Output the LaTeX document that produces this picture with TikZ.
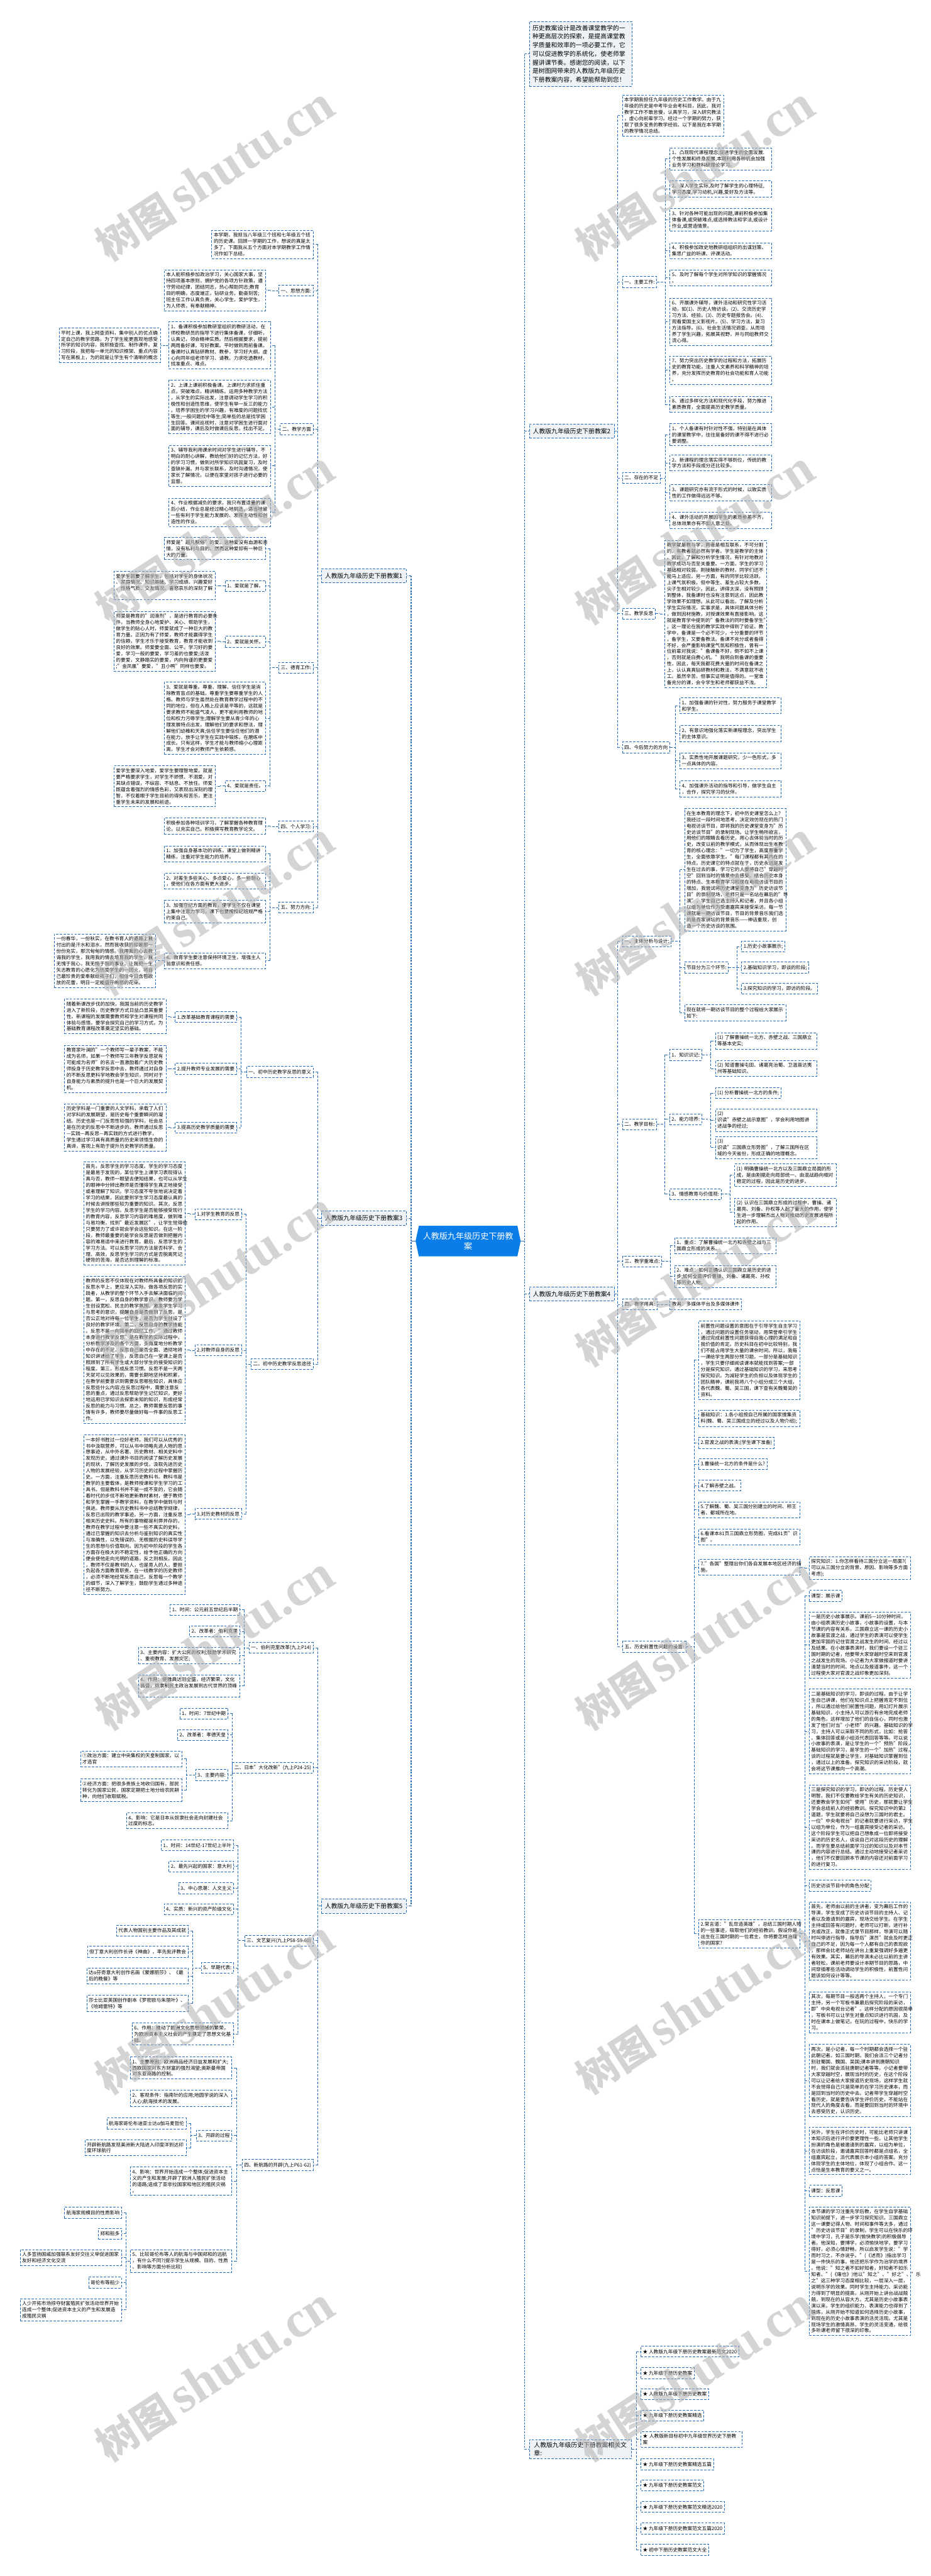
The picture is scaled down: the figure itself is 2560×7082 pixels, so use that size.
\documentclass[tikz,border=0pt]{standalone}
\usepackage{fontspec}
\setmainfont{Noto Sans CJK SC}
\newfontfamily\wmlat{Liberation Serif}
\definecolor{bl}{RGB}{40,112,190}
\definecolor{lg}{RGB}{239,242,246}
\definecolor{cb}{RGB}{10,125,232}
\newcommand\fsB{\fontsize{6.65pt}{8.6pt}\selectfont}
\newcommand\fsL{\fontsize{8.5pt}{11.5pt}\selectfont}
\newcommand\fsC{\fontsize{11.3pt}{14.5pt}\selectfont}
\tikzset{
  bxA/.style={draw=bl, dash pattern=on 3.3pt off 1.8pt, line width=0.7pt, fill=white, inner xsep=2.7pt, inner ysep=3.5pt, font=\fsB, align=left},
  ppA/.style={bxA, text width=134pt},
  lbA/.style={bxA, minimum height=15pt},
  hdA/.style={bxA, fill=lg, font=\fsL, inner xsep=5pt, minimum height=19.5pt},
  cnA/.style={draw=bl, dash pattern=on 3.3pt off 1.8pt, line width=0.7pt},
  spA/.style={draw=bl, dash pattern=on 2.5pt off 1.5pt, line width=1.5pt},
  wmA/.style={text=black!30, opacity=0.55, rotate=33, anchor=base west, inner sep=0pt},
}
\newcommand\fanR[4]{%
  \coordinate (vv) at ([xshift=-6pt]#2.west);
  \draw[cnA] (#1.east) -- (vv |- #1.east);
  \draw[cnA] (vv |- #2.west) -- (vv |- #3.west);
  \foreach \q in {#4} {\draw[cnA] (vv |- \q.west) -- (\q.west);}
}
\newcommand\fanL[4]{%
  \coordinate (vv) at ([xshift=6pt]#2.east);
  \draw[cnA] (#1.west) -- (vv |- #1.west);
  \draw[cnA] (vv |- #2.east) -- (vv |- #3.east);
  \foreach \q in {#4} {\draw[cnA] (vv |- \q.east) -- (\q.east);}
}
\begin{document}
\begin{tikzpicture}[x=0.5pt,y=-0.5pt]
\useasboundingbox (0,0) rectangle (2560,7082);
\fill[white] (0,0) rectangle (2560,7082);

% ---------- centre ----------
\fill[cb] (1152,3370) -- (1423,3370) -- (1432,3412) -- (1423,3454) -- (1152,3454) -- (1143,3412) -- cycle;
\node[text=white, font=\fsC, align=center, minimum width=144.5pt, minimum height=42pt, inner sep=0pt] (c) at (1287.5,3412) {人教版九年级历史下册教\\案};

% ---------- right side ----------
\node[hdA, anchor=north west, text width=132pt, inner xsep=4.5pt, inner ysep=5pt, font=\fontsize{8.5pt}{11.9pt}\selectfont] (intro) at (1455,58) {历史教案设计是改善课堂教学的一\\种更高层次的探索，是提高课堂教\\学质量和效率的一项必要工作，它\\可以促进教学的系统化，使老师掌\\握讲课节奏。感谢您的阅读，以下\\是树图网带来的人教版九年级历史\\下册教案内容，希望能帮助到您！};

\node[hdA, anchor=west] (r2) at (1455,1185) {人教版九年级历史下册教案2};
\node[ppA, anchor=north west] (r2a) at (1711,261) {本学期我担任九年级的历史工作教学。由于九\\年级的历史是中考毕业会考科目，因此，我对\\教学工作不敢怠慢，认真学习，深入研究教法\\，虚心向前辈学习。经过一个学期的努力，获\\取了很多宝贵的教学经验。以下是我在本学期\\的教学情况总结。};
\node[lbA, anchor=west] (r2b) at (1711,775) {一、主要工作:};
\node[ppA, anchor=north west] (r2b1) at (1842,406) {1、凸现现代课程理念,促进学生的全面发展.\\个性发展和终身发展,本期利用各种机会加强\\业务学习和教科研理论学习。};
\node[ppA, anchor=north west] (r2b2) at (1842,497) {2、深入学生实际,及时了解学生的心理特征,\\学习态度,学习动机,兴趣,爱好及方法等。};
\node[ppA, anchor=north west] (r2b3) at (1842,573) {3、针对各种可能出现的问题,课前积极参加集\\体备课,或突破难点,或选择教法和学法,或设计\\作业,或营造情景。};
\node[ppA, anchor=north west] (r2b4) at (1842,667) {4、积极参加政史地教研组组织的出谋划策、\\集思广益的听课、评课活动。};
\node[ppA, anchor=north west] (r2b5) at (1842,741) {5、及时了解每个学生对所学知识的掌握情况\\。};
\node[ppA, anchor=north west] (r2b6) at (1842,819) {6、开展课外辅导，课外活动和研究性学习活\\动，如(1)、历史人物访谈。(2)、交流历史学\\习方法、经验。(3)、历史专题报告会。(4)、\\观看爱国主义影视片。(5)、学习方法，复习\\方法指导。(6)、社会生活情况调查。从而培\\养了学生兴趣，拓展其视野，并与同组教师交\\流心得。};
\node[ppA, anchor=north west] (r2b7) at (1842,978) {7、努力突出历史教学的过程和方法，拓展历\\史的教育功能，注重人文素养和科学精神的培\\养，充分发挥历史教育的社会功能和育人功能\\。};
\node[ppA, anchor=north west] (r2b8) at (1842,1089) {8、通过多样化方法和现代化手段，努力推进\\素质教育，全面提高历史教学质量。};
\node[lbA, anchor=west] (r2c) at (1711,1314) {二、存在的不足};
\node[ppA, anchor=north west] (r2c1) at (1842,1164) {1、个人备课有时针对性不强，特别是在具体\\的课堂教学中，往往是备好的课不得不进行必\\要调整。};
\node[ppA, anchor=north west] (r2c2) at (1842,1250) {2、新课程的理念落实得不够到位，传统的教\\学方法和手段成分还比较多。};
\node[ppA, anchor=north west] (r2c3) at (1842,1332) {3、课题研究亦有流于形式的时候，以致实质\\性的工作做得远远不够。};
\node[ppA, anchor=north west] (r2c4) at (1842,1408) {4、课外活动的开展因学生的素质参差不齐，\\总体效果亦有不如人意之处。};
\node[lbA, anchor=west] (r2d) at (1711,1687) {三、教学反思};
\node[ppA, anchor=north west] (r2d1) at (1828,1485) {教学就是教与学，两者是相互联系，不可分割\\的，有教者就必然有学者。学生是教学的主体\\。因此，了解和分析学生情况，有针对地教对\\教学成功与否至关重要。一方面，学生的学习\\基础相对较弱，刚接触新的教材，同学们还不\\能马上适应。另一方面，有的同学比较活跃，\\上课气氛积极，但中等生、差生占较大多数，\\尖子生相对较少。因此，讲得太深，没有照顾\\到整体，我备课时也没有注意到这点，因此教\\学效果不如理想。从此可以看出，了解及分析\\学生实际情况，实事求是，具体问题具体分析\\，做到因材施教，对授课效果有直接影响。这\\就是教育学中提到的"备教法的同时要备学生"\\。这一理论在我的教学实践中得到了验证。教\\学中，备课是一个必不可少，十分重要的环节\\，备学生，又要备教法。备课不充分或者备得\\不好，会严重影响课堂气氛和积极性，曾有一\\位前辈对我说："备课备不好，倒不如不上课\\，否则就是白费心机。"我明白到备课的重要\\性，因此，每天我都花费大量的时间在备课之\\上，认认真真钻研教材和教法，不满意就不收\\工。虽然辛苦，但事实证明是值得的。一堂准\\备充分的课，会令学生和老师都获益不浅。};
\node[lbA, anchor=west] (r2e) at (1711,2055) {四、今后努力的方向};
\node[ppA, anchor=north west] (r2e1) at (1869,1918) {1、加强备课的针对性，努力服务于课堂教学\\和学生。};
\node[ppA, anchor=north west] (r2e2) at (1869,1994) {2、有意识地强化落实新课程理念，突出学生\\的主体意识。};
\node[ppA, anchor=north west] (r2e3) at (1869,2069) {3、实质性地开展课题研究，少一色形式，多\\一点具体的内容。};
\node[ppA, anchor=north west] (r2e4) at (1869,2146) {4、加强课外活动的指导和引导，做学生自主\\，合作，探究学习的伙伴。};

\node[hdA, anchor=west] (r4) at (1455,3557) {人教版九年级历史下册教案4};
\node[lbA, anchor=west] (r4a) at (1711,2588) {一、主体分析与设计:};
\node[ppA, anchor=north west] (r4a1) at (1882,2222) {在生本教育的理念下，初中历史课堂怎么上？\\我经过一段时间地思考，决定效仿现在的热门\\电视访谈节目，即将我的历史课堂变身为"历\\史访谈节目"的录制现场。让学生畅所欲言，\\用他们的眼睛去看历史，用心去体验当时的历\\史，改变以前的教学模式，从而体现出生本教\\育的核心理念："一切为了学生，高度尊重学\\生，全面依靠学生。"每门课程都有其内在的\\特点。历史课它的特点就在于，历史永远是发\\生在过去的事，学习它的人要将自己"穿越时\\空"回到当时的情景中去感受。结合历史本身\\的特点、生本教育学习和现在电视访谈节目的\\增加，我尝试将历史课堂变身为"历史访谈节\\目"的录制现场，老师只是一名站在幕后的"导\\演"，学生自己选主持人和记者，并且各小组\\以组为单位作为受邀嘉宾来接受采访。每一节\\课就是一期访谈节目，节目的背景音乐我们选\\的是百家讲坛的背景音乐——神话重现，创\\造一个历史访谈的氛围。};
\node[lbA, anchor=west] (r4a2) at (1882,2660) {节目分为三个环节:};
\node[lbA, anchor=west] (r4a2a) at (2039,2602) {1.历史小故事展示;};
\node[lbA, anchor=west] (r4a2b) at (2039,2660) {2.基础知识学习，即谈的阶段;};
\node[lbA, anchor=west] (r4a2c) at (2039,2718) {3.探究知识的学习，即访的阶段。};
\node[ppA, anchor=north west] (r4a3) at (1882,2762) {现在就将一期访谈节目的整个过程给大家展示\\如下:};
\node[lbA, anchor=west] (r4b) at (1711,3091) {二、教学目标:};
\node[lbA, anchor=west] (r4b1) at (1841,2900) {1、知识识记:};
\node[ppA, anchor=north west] (r4b1a) at (1967,2839) {(1) 了解曹操统一北方、赤壁之战、三国鼎立\\等基本史实;};
\node[ppA, anchor=north west] (r4b1b) at (1967,2915) {(2) 知道曹操屯田、诸葛亮治蜀、卫温首达夷\\州等基础知识。};
\node[lbA, anchor=west] (r4b2) at (1841,3077) {2、能力培养:};
\node[lbA, anchor=west] (r4b2a) at (1967,3005) {(1) 分析曹操统一北方的条件;};
\node[ppA, anchor=north west] (r4b2b) at (1967,3048) {(2) 识读"赤壁之战示意图"，学会利用地图讲\\述战争的经过;};
\node[ppA, anchor=north west] (r4b2c) at (1967,3124) {(3) 识读"三国鼎立形势图"，了解三国所在区\\域的今天省份，形成正确的地理概念。};
\node[lbA, anchor=west] (r4b3) at (1841,3283) {3、情感教育与价值观:};
\node[ppA, anchor=north west] (r4b3a) at (2020,3199) {(1) 明确曹操统一北方以及三国鼎立局面的形\\成，是由割据走向局部统一、由混战趋向相对\\稳定的过程，因此是历史的进步。};
\node[ppA, anchor=north west] (r4b3b) at (2020,3293) {(2) 认识在三国鼎立形成的过程中，曹操、诸\\葛亮、刘备、孙权等人起了重大的作用，使学\\生进一步理解杰出人物对推动历史发展进程所\\起的作用。};
\node[lbA, anchor=west] (r4c) at (1712,3468) {三、教学重难点:};
\node[ppA, anchor=north west] (r4c1) at (1855,3402) {1、重点：了解曹操统一北方和赤壁之战与三\\国鼎立形成的关系。};
\node[ppA, anchor=north west] (r4c2) at (1855,3478) {2、难点：如何正确认识三国鼎立是历史的进\\步;如何全面评价曹操、刘备、诸葛亮、孙权\\等历史人物。};
\node[lbA, anchor=west] (r4d) at (1712,3586) {四、教学用具:};
\node[lbA, anchor=west] (r4d1) at (1842,3586) {教具：多媒体平台及多媒体课件};
\node[lbA, anchor=west] (r4e) at (1712,4527) {五、历史前置性问题的设置:};
\node[ppA, anchor=north west] (r4e1) at (1921,3631) {前置性问题设置的意图在于引导学生自主学习\\，通过问题的设置任务驱动，用荣誉牵引学生\\通过完成前置性问题获得自我心理的满足和自\\我价值的肯定。历史科目在初中比较特别，我\\们不能占用学生大量的课余时间。所以，我每\\一课给学生两部分预习题，一部分是基础知识\\，学生只要仔细阅读课本就能找到答案;一部\\分是探究知识，通过基础知识的学习，来思考\\探究知识。为减轻学生的负担以及体现学生的\\团队精神，课前我将八个小组分成三个大组，\\各代表魏、蜀、吴三国，课下查有关魏蜀吴的\\资料。};
\node[ppA, anchor=north west] (r4e2) at (1921,3876) {基础知识：1.各小组按自己所属的国家搜集资\\料(魏、蜀、吴三国成立的经过以及人物介绍);};
\node[lbA, anchor=west] (r4e3) at (1921,3967) {2.官渡之战的表演;(学生课下准备)};
\node[lbA, anchor=west] (r4e4) at (1921,4025) {3.曹操统一北方的条件是什么?};
\node[lbA, anchor=west] (r4e5) at (1921,4084) {4.了解赤壁之战。};
\node[ppA, anchor=north west] (r4e6) at (1921,4128) {5.了解魏、蜀、吴三国分别建立的时间、称王\\者、都城所在地。};
\node[ppA, anchor=north west] (r4e7) at (1921,4203) {6.看课本81页三国鼎立形势图，完成81页"识\\图"。};
\node[ppA, anchor=north west] (r4e8) at (1921,4286) {7."各国"整理出你们各自发展本地区经济的措\\施。};
\node[ppA, anchor=north west] (r4e8a) at (2225,4279) {探究知识：1.你怎样看待三国分立这一局面?(\\可以从三国分立的背景、原因、影响等多方面\\考虑);};
\node[ppA, anchor=north west] (r4e9) at (1921,5276) {2.常言道："乱世造英雄"，总结三国时期人物\\的一些事迹，吸取他们的经验教训，假设你是\\出生在三国时期的一位君主，你将要怎样治理\\你的国家?};
\node[lbA, anchor=west] (r4e9a) at (2225,4387) {课型：展示课};
\node[ppA, anchor=north west] (r4e9b) at (2225,4431) {一是历史小故事展示。课前5—10分钟时间，\\由小组表演历史小故事，小故事的设置，与本\\节课的内容有关系，三国鼎立这一课的历史小\\故事是官渡之战，通过学生的表演可以使学生\\更加牢固的记住官渡之战发生的时间、经过以\\及结果。在小故事表演时，我们要设一个驻三\\国时期的记者，他要带大家穿越时空来到官渡\\之战发生的现场。小记者为大家做报道时要讲\\清楚当时的时间、地点以及报道事件，这一个\\过程使大家对官渡之战印象更加深刻。};
\node[ppA, anchor=north west] (r4e9c) at (2225,4643) {二是基础知识的学习，即谈的过程。由于让学\\生自己讲课，他们在知识点上把握肯定不到位\\，所以通过给他们前置性问题，用幻灯片展示\\基础知识，小主持人可以游刃有余地完成老师\\的角色，这样增加了他们的自信心，同时也激\\发了他们对当"小老师"的兴趣。基础知识的学\\习，主持人可以采取不同的形式，比如：抢答\\、集体回答或是小组派代表回答等等。可以说\\小故事的表演，是让学生的一个"预热"阶段，\\基础知识的学习，是学生的一个"加热"过程，\\谈的过程就是要让学生，对基础知识掌握到位\\，通过以上的准备，探究知识的采访阶段，就\\会将这节课推向一个高潮。};
\node[ppA, anchor=north west] (r4e9d) at (2225,4906) {三是探究知识的学习，即访的过程。历史使人\\明智。我们不仅要教给学生有关的历史知识，\\还要教会学生如何"使用"历史，那就要让学生\\学会总结前人的经验教训。探究知识中的第2\\道题，学生就要将自己设想为三国时的君主。\\一位"中央电视台"的记者就要进行采访，学生\\以组为单位，作为一组嘉宾接受记者的采访。\\这个阶段学生可以把自己想象成一位即将接受\\采访的历史名人，谈谈自己对这段历史的理解\\。而学生要总结前面学习过的知识以及对本节\\课的内容进行总结。通过主动地接受记者采访\\，他们不仅要回顾本节课的内容还对前面学习\\的进行复习。};
\node[lbA, anchor=west] (r4e9e) at (2225,5184) {历史访谈节目中的角色分配};
\node[ppA, anchor=north west] (r4e9f) at (2225,5228) {首先，老师由以前的主讲者，变为幕后工作的\\导演，学生变成了历史访谈节目的主持人、记\\者以及邀请到的嘉宾，现场交给学生。在学生\\主持或回答有问题时，老师可以打断，进行补\\充或改正，就像正式录节目那样，导演可以随\\时叫停进行指导，指导后"演员"就会及时更正\\自己的不足，因为每一个人都有自己的表现欲\\，那样会比老师站在讲台上重复强调好多遍更\\有效果。其实，幕后的导演未必比以前的主讲\\者轻松，课前老师要设计本期节目的思路，中\\间穿插哪些活动调动学生的积极性，前置性问\\题该如何设计等等。};
\node[ppA, anchor=north west] (r4e9g) at (2225,5475) {其次，每期节目一般选两个主持人，一个专门\\主持，另一个写板书兼最后探究阶段的采访，\\即"中央电视台记者"。这样分配的原因很简单\\，写板书可以让学生对重点知识进行巩固，及\\时在课本上做笔记，在玩的过程中，快乐的学\\习。};
\node[ppA, anchor=north west] (r4e9h) at (2225,5620) {再次，是小记者，每一个时期都会选择一个驻\\此朝记者。如三国时期，我们会派三个记者分\\别驻蜀国、魏国、吴国;课本讲到唐朝知识\\时，我们就会派驻唐朝记者等等。小记者要带\\大家穿越时空，展现当时的历史，在这个阶段\\可以让记者给大家报道历史现场，这样学生就\\不会觉得自己只是简单的在学习历史课本，而\\是回到当时的历史中去。记者带学生穿越时空\\看历史，就是要告诉学生评价历史，不能站在\\现代人的角度去看，而是要回到当时的环境中\\去感受历史，认识历史。};
\node[ppA, anchor=north west] (r4e9i) at (2225,5848) {另外，学生在评价历史时，可能比老师只讲课\\本知识后进行评价要更理性一些。让其他学生\\扮演的角色是被邀请到的嘉宾，以组为单位，\\在访谈阶段，邀请嘉宾回答时都是点组名，全\\组嘉宾起立，派代表展示本小组的答案。充分\\体现学生的主体地位，体现了小组合作。这一\\点恰是生本教育的要义之一。};
\node[lbA, anchor=west] (r4e9j) at (2225,6023) {课型：反思课};
\node[ppA, anchor=north west] (r4e9k) at (2225,6067) {本节课的学习注重先学后教，在学生自学基础\\知识前提下，进一步学习探究知识。三国鼎立\\这一课要记得人物、时间和事件等太多，通过\\"历史访谈节目"的录制，学生可以在快乐的环\\境中学习，孔子是乐学(愉快教学)的积极倡导\\者。他深知，要博学，必须愉快地学，要学习\\得好，必须心情舒畅，所以启发学生说："学\\而时习之，不亦说乎。"(《述而》)指出学习\\是一件快乐的事。他还把乐学作为治学的境界\\。他说："知之者不如好知者，好知者不如乐\\知者。"(《雍也》)他以"知之"、"好之"、"乐\\之"这三种学习态度相比较，一层深入一层，\\说明乐学的效果。同时学生主持能力、采访能\\力得到了明显的提高，从刚开始上讲台战战兢\\兢，到现在的从容大方。尤其是历史小故事表\\演以来，学生的组织能力、表演能力也得到了\\锻炼，从刚开始不知道如何选择历史小故事，\\到现在的历史小故事表演的活灵活现。尤其是\\现场学生的激情高昂，学生的灵活变通，给很\\多听课老师留下很深的印象。};

\node[hdA, anchor=north west, text width=127.5pt, inner xsep=6.5pt] (rel) at (1455,6706) {人教版九年级历史下册教案相关文\\章:};
\node[lbA, anchor=west] (rel1) at (1762,6465) {★ 人教版九年级下册历史教案最新范文2020};
\node[lbA, anchor=west] (rel2) at (1762,6524) {★ 九年级下册历史教案};
\node[lbA, anchor=west] (rel3) at (1762,6582) {★ 人教版九年级下册历史教案};
\node[lbA, anchor=west] (rel4) at (1762,6641) {★ 九年级下册历史教案精选};
\node[ppA, anchor=north west] (rel5) at (1762,6684) {★ 人教版新目标初中九年级世界历史下册教\\案};
\node[lbA, anchor=west] (rel6) at (1762,6775) {★ 九年级下册历史教案精选五篇};
\node[lbA, anchor=west] (rel7) at (1762,6833) {★ 九年级下册历史教案范文};
\node[lbA, anchor=west] (rel8) at (1762,6892) {★ 九年级下册历史教案范文精选2020};
\node[lbA, anchor=west] (rel9) at (1762,6951) {★ 九年级下册历史教案范文五篇2020};
\node[lbA, anchor=west] (rel10) at (1762,7010) {★ 初中下册历史教案范文大全};

% ---------- left side ----------
\node[hdA, anchor=east] (l1) at (1118,1583) {人教版九年级历史下册教案1};
\node[ppA, anchor=north east] (l1a) at (862,632) {本学期，我担当八年级三个班和七年级五个班\\的历史课。回顾一学期的工作，想说的真是太\\多了。下面我从五个方面对本学期教学工作情\\况作如下总结。};
\node[lbA, anchor=east] (l1b) at (862,799) {一、思想方面:};
\node[ppA, anchor=north east] (l1b1) at (731,741) {本人能积极参加政治学习，关心国家大事，坚\\持四项基本原则，拥护党的各项方针政策，遵\\守劳动纪律，团结同志，热心帮助同志;教育\\目的明确，态度端正，钻研业务，勤奋刻苦;\\班主任工作认真负责，关心学生，爱护学生，\\为人师表，有奉献精神。};
\node[lbA, anchor=east] (l1c) at (862,1180) {二、教学方面};
\node[ppA, anchor=north east] (l1c1) at (744,884) {1、备课积极参加教研室组织的教研活动，在\\师校教研员的指导下进行集体备课，仔细听，\\认真记，领会精神实质。然后根据要求，提前\\两周备好课，写好教案。平时做到周前备课。\\备课时认真钻研教材、教参，学习好大纲，虚\\心向同年组老师学习、请教。力求吃透教材，\\找准重点、难点。};
\node[ppA, anchor=north east] (l1c1a) at (442,901) {平时上课，我上网查资料，集中别人的优点确\\定自己的教学思路，为了学生能更直观地感受\\所学的知识内容，我积极查找、制作课件。复\\习阶段，我把每一单元的知识框架、重点内容\\写在黑板上，为的就是让学生有个清晰的概念};
\node[ppA, anchor=north east] (l1c2) at (744,1045) {2、上课上课前积极备课。上课时力求抓住重\\点，突破难点，精讲精练。运用多种教学方法\\，从学生的实际出发，注意调动学生学习的积\\极性和创造性思维，使学生有举一反三的能力\\。培养学困生的学习兴趣，有难度的问题找优\\等生;一般问题找中等生;简单些的总是找学困\\生回答。课间巡视时，注意对学困生进行面对\\面的辅导，课后及时做课后反思，找出不足。};
\node[ppA, anchor=north east] (l1c3) at (744,1224) {3、辅导我利用课余时间对学生进行辅导，不\\明白的耐心讲解，教给他们好的记忆方法，好\\的学习习惯，做到对所学知识巩固复习，及时\\查缺补漏。并与家长联系，及时沟通情况，使\\家长了解情况，以便在家里对孩子进行必要的\\监督。};
\node[ppA, anchor=north east] (l1c4) at (744,1369) {4、作业根据减负的要求，我只布置适量的课\\后小结，作业总是经过精心地挑选，适当地留\\一些有利于学生能力发展的、发挥主动性和创\\造性的作业。};
\node[lbA, anchor=east] (l1d) at (862,1836) {三、德育工作:};
\node[ppA, anchor=north east] (l1d1) at (731,1477) {师爱是"超凡脱俗"的爱。这种爱没有血源和亲\\情，没有私利与目的，然而这种爱却有一种巨\\大的力量。};
\node[lbA, anchor=east] (l1d2) at (731,1611) {1、爱就是了解。};
\node[ppA, anchor=north east] (l1d2a) at (593,1570) {爱学生就要了解学生，包括对学生的身体状况\\、家庭情况、知识基础、学习成绩、兴趣爱好\\、性格气质、交友情况、喜怒哀乐的深刻了解\\。};
\node[lbA, anchor=east] (l1d3) at (731,1764) {2、爱就是关怀。};
\node[ppA, anchor=north east] (l1d3a) at (593,1680) {师爱是教育的"润滑剂"，是进行教育的必要条\\件。当教师全身心地爱护、关心、帮助学生，\\做学生的贴心人时，师爱就成了一种巨大的教\\育力量。正因为有了师爱，教师才能赢得学生\\的信赖，学生才乐于接受教育，教育才能收到\\良好的效果。师爱要全面、公平。学习好的要\\爱，学习一般的要爱，学习差的也要爱;活泼\\的要爱，文静踏实的要爱，内向拘谨的更要爱\\;"金凤凰"要爱，"丑小鸭"同样也要爱。};
\node[ppA, anchor=north east] (l1d4) at (731,1875) {3、爱就是尊重。尊重、理解、信任学生是消\\除教育盲点的基础。尊重学生要尊重学生的人\\格。教师与学生虽然处在教育教学过程中的不\\同的地位，但在人格上应该是平等的，这就是\\要求教师不能盛气凌人，更不能利用教师的地\\位和权力污辱学生;理解学生要从青少年的心\\理发展特点出发，理解他们的要求和想法，理\\解他们幼稚和天真;信任学生要信任他们的潜\\在能力，放手让学生在实践中锻炼，在磨练中\\成长。只有这样，学生才能与教师缩小心理距\\离，学生才会对教师产生依赖感。};
\node[lbA, anchor=east] (l1d5) at (731,2161) {4、爱就是责任。};
\node[ppA, anchor=north east] (l1d5a) at (593,2105) {爱学生要深入地爱，爱学生要理智地爱。就是\\要严格要求学生，对学生不娇惯、不溺爱。对\\其缺点错误，不纵容、不姑息、不放任。师爱\\既蕴含着强烈的情感色彩，又表现出深刻的理\\智，不仅着眼于学生目前的得失和苦乐，更注\\重学生未来的发展和前途。};
\node[lbA, anchor=east] (l1e) at (862,2272) {四、个人学习:};
\node[ppA, anchor=north east] (l1e1) at (731,2248) {积极参加各种培训学习，了解掌握各种教育理\\论，以充实自己。积极撰写教育教学论文。};
\node[lbA, anchor=east] (l1f) at (862,2495) {五、努力方向:};
\node[ppA, anchor=north east] (l1f1) at (731,2325) {1、加强自身基本功的训练，课堂上做到精讲\\精练，注重对学生能力的培养。};
\node[ppA, anchor=north east] (l1f2) at (731,2400) {2、对差生多些关心、多点爱心，多一些耐心\\，使他们在各方面有更大进步。};
\node[ppA, anchor=north east] (l1f3) at (731,2475) {3、加强守纪方面的教育，使学生不仅在课堂\\上集中注意力学习，课下也要按校纪班规严格\\约束自己。};
\node[ppA, anchor=north east] (l1f4) at (731,2619) {4、教育学生要注意保持环境卫生，增强主人\\翁意识和责任感。};
\node[ppA, anchor=north east] (l1f4a) at (429,2567) {一份春华，一份秋实，在教书育人的道路上我\\付出的是汗水和泪水，然而我收获的却是那一\\份份充实，那沉甸甸的情感。我用我的心去教\\诲我的学生，我用我的情去培育我的学生，我\\无愧于我心，我无悔于我的事业。让我把一生\\矢志教育的心愿化为热爱学生的一团火，将自\\己最珍贵的爱奉献给孩子们，相信今日含苞欲\\放的花蕾，明日一定能盛开绚丽的花朵。};

\node[hdA, anchor=east] (l3) at (1118,3349) {人教版九年级历史下册教案3};
\node[lbA, anchor=east] (l3a) at (862,2947) {一、初中历史教学反思的意义};
\node[lbA, anchor=east] (l3a1) at (651,2796) {1.改革基础教育课程的需要};
\node[ppA, anchor=north east] (l3a1a) at (457,2746) {随着新课改步伐的加快，我国当前的历史教学\\进入了新阶段，历史教学方式日益凸显其重要\\性。新课程的发展需要教师和学生对课程共同\\体验与感悟，要学会探究自己的学习方式，为\\基础教育课程改革奠定坚实的基础。};
\node[lbA, anchor=east] (l3a2) at (651,2938) {2.提升教师专业发展的需要};
\node[ppA, anchor=north east] (l3a2a) at (457,2873) {教育家叶澜的"一个教师写一辈子教案，不能\\成为名师，如果一个教师写三年教学反思就有\\可能成为名师"的名言一直激励着广大历史教\\师投身于历史教学反思中去，教师通过对自身\\的不断反思更科学地教会学生知识，同时对于\\自身能力与素质的提升也是一个巨大的发展契\\机。};
\node[lbA, anchor=east] (l3a3) at (651,3100) {3.提高历史教学质量的需要};
\node[ppA, anchor=north east] (l3a3a) at (457,3034) {历史学科是一门重要的人文学科，承载了人们\\对学科的发展期望，是历史每个重要瞬间的凝\\结。历史也是一门反思性较强的学科，社会总\\是在历史的反思中不断进步的。教师通过反思\\—实践—再反思—再实践的方式进行教学，\\学生通过学习具有高质量的历史来领悟生命的\\真谛，客观上有助于提升历史教学的质量。};
\node[lbA, anchor=east] (l3b) at (862,3750) {二、初中历史教学反思途径};
\node[lbA, anchor=east] (l3b1) at (665,3338) {1.对学生教育的反思};
\node[ppA, anchor=north east] (l3b1a) at (510,3193) {首先，反思学生的学习态度。学生的学习态度\\是最易于发现的，某位学生上课学习表现得认\\真与否，教师一眼望去便知结果，也可以从学生\\的眼神中分辨出教师是否懂得学生真正地接受\\或者理解了知识。学习态度不夸张地说决定着\\学习的结果，因此要到学生学习态度最认真的\\时候去讲授那些较为重要的知识。其次，反思\\学生的学习内容。反思学生是否能够接受现行\\的教育内容，反思学习内容的难易度，做到难\\与易均衡，找到"最近发展区"，让学生觉得他\\只要努力了或许就会学会这些知识。在这一阶\\段，教师最重要的是学会反思是否做到把握内\\容的难易适中来进行教育。最后，反思学生的\\学习方法。可以反思学习的方法是否科学、合\\理、高效，反思学生学习的方式是否脱离死记\\硬背的苦海，是否达到理解的标准。};
\node[lbA, anchor=east] (l3b2) at (665,3712) {2.对教师自身的反思};
\node[ppA, anchor=north east] (l3b2a) at (510,3508) {教师的反思不仅体现在对教师所具备的知识的\\反思水平上，更应深入实际，做各项反思的实\\践者，从教学的整个环节入手去解决面临的问\\题。第一，反思自身的教学意识。教师要为学\\生创设宽松、民主的教学氛围，激发学生学习\\与思考的意识，提醒自身是否做到了反思，是\\否公正地对待每一位学生，是否为学生创设了\\良好的教学环境。第二，反思自身的教学技能\\。反思不是一向简单的回忆工作，"通过教师\\本身进行教学反思"是在教学的实际过程中，\\分析教学涉及的各个方面，多角度地分析教学\\中存在的不足，反思自己是否全面、透彻地将\\知识讲述给了学生，反思自己在一堂课上是否\\照顾到了所有学生或大部分学生的接受知识的\\程度。第三，形成反思习惯。反思不是一天两\\天就可以见效果的，需要长期地坚持和积累，\\在教学前要意识到需要反思哪些知识，具体应\\反思些什么内容;在反思过程中，需要注意反\\思的重点，通过反思帮助学生记忆知识，更好\\地运用已学知识去探索未知的知识，形成经常\\反思的能力与习惯。总之，教师需要反思的事\\情有许多，教师要尽量做好每一件事的反思工\\作。};
\node[lbA, anchor=east] (l3b3) at (665,4162) {3.对历史教材的反思};
\node[ppA, anchor=north east] (l3b3a) at (510,3944) {一本好书胜过一位好老师。我们可以从优秀的\\书中汲取营养，可以从书中领略先进人物的思\\想事迹，从中外名著、历史教材、相关史料中\\发现历史，通过课外书目的阅读了解历史发展\\的现状，了解历史发展的步伐，汲取先进历史\\人物的发展经验，从学习历史的过程中掌握历\\史。一方面，注重反思历史教科书。教科书是\\教学的主要载体，是教师授课和学生学习的工\\具书。但是教科书并不是一成不变的，它会随\\着时代的步伐不断地更新教材素材，便于教师\\和学生掌握一手教学资料，在教学中做到与时\\俱进。教师要从历史教科书中总结教学规律，\\反思已出现的教学事迹。另一方面，注重反思\\相关历史史料。所有的事物都是利弊并存的，\\教师在教学过程中要注意一些不真实的史料，\\通过已掌握的知识去分析与鉴别知识的真实性\\与准确性，以免错误的、无根据的史料误导学\\生的思想与价值取向。因为初中阶段的学生各\\方面存在极大的不稳定性，给予他正确的方向\\便会使他走向光明的道路，反之则相反。因此\\，教师不仅是教书的人，也是育人的人，要担\\负起各方面教育职责。在一线教学的历史教师\\，必须不断地经常反思自己，反思每一个教学\\的细节，深入了解学生，鼓励学生通过多种途\\径不断努力。};

\node[hdA, anchor=east] (l5) at (1118,5240) {人教版九年级历史下册教案5};
\node[lbA, anchor=east] (l5a) at (862,4530) {一、伯利克里改革(九上P14)};
\node[lbA, anchor=east] (l5a1) at (660,4426) {1、时间：公元前五世纪后半期};
\node[lbA, anchor=east] (l5a2) at (660,4485) {2、改革者：伯利克里};
\node[ppA, anchor=north east] (l5a3) at (660,4529) {3、主要内容：扩大公民的权利;鼓励学术研究\\、重视教育、发展文艺;};
\node[ppA, anchor=north east] (l5a4) at (660,4604) {4、作用：使雅典达到全盛，经济繁荣，文化\\昌盛，奴隶制民主政治发展到古代世界的顶峰\\。};
\node[lbA, anchor=east] (l5b) at (862,4860) {二、日本"大化改新"(九上P24-25)};
\node[lbA, anchor=east] (l5b1) at (627,4711) {1、时间：7世纪中期};
\node[lbA, anchor=east] (l5b2) at (627,4770) {2、改革者：孝德天皇};
\node[lbA, anchor=east] (l5b3) at (627,4880) {3、主要内容:};
\node[ppA, anchor=north east] (l5b3a) at (501,4813) {①政治方面：建立中央集权的天皇制国家，以\\才选官};
\node[ppA, anchor=north east] (l5b3b) at (501,4890) {②经济方面：把很多贵族土地收归国有，部民\\转化为国家公民，国家定期把土地分给农民耕\\种，向他们收取赋税。};
\node[ppA, anchor=north east] (l5b4) at (627,4983) {4、影响：它是日本从奴隶社会走向封建社会\\过度的标志。};
\node[lbA, anchor=east] (l5c) at (862,5335) {三、文艺复兴(九上P58-59-60)};
\node[lbA, anchor=east] (l5c1) at (643,5073) {1、时间：14世纪-17世纪上半叶};
\node[lbA, anchor=east] (l5c2) at (643,5131) {2、最先兴起的国家：意大利};
\node[lbA, anchor=east] (l5c3) at (643,5191) {3、中心思潮：人文主义};
\node[lbA, anchor=east] (l5c4) at (643,5249) {4、实质：新兴的资产阶级文化};
\node[lbA, anchor=east] (l5c5) at (643,5410) {5、早期代表:};
\node[lbA, anchor=east] (l5c5a) at (518,5308) {代表人物国别主要作品及其成就};
\node[lbA, anchor=east] (l5c5b) at (518,5366) {但丁意大利创作长诗《神曲》，率先批评教会};
\node[ppA, anchor=north east] (l5c5c) at (518,5410) {达o芬奇意大利创作名画《蒙娜丽莎》、《最\\后的晚餐》等};
\node[ppA, anchor=north east] (l5c5d) at (518,5485) {莎士比亚英国创作剧本《罗密欧与朱丽叶》、\\《哈姆雷特》等};
\node[ppA, anchor=north east] (l5c6) at (643,5561) {6、作用：推动了欧洲文化思想领域的繁荣，\\为欧洲资本主义社会的产生奠定了思想文化基\\础。};
\node[lbA, anchor=east] (l5d) at (862,5952) {四、新航路的开辟(九上P61-62)};
\node[ppA, anchor=north east] (l5d1) at (638,5654) {1、主要原因：欧洲商品经济日益发展和扩大;\\西欧国家对东方财富的强烈渴望;奥斯曼帝国\\对东亚商路的控制。};
\node[ppA, anchor=north east] (l5d2) at (638,5746) {2、客观条件：指南针的应用;地圆学说的深入\\人心;航海技术的发展。};
\node[lbA, anchor=east] (l5d3) at (638,5871) {3、开辟的过程};
\node[lbA, anchor=east] (l5d3a) at (513,5838) {航海家哥伦布迪亚士达o伽马麦哲伦};
\node[ppA, anchor=north east] (l5d3b) at (513,5882) {开辟新航路发现美洲新大陆进入印度洋到达印\\度环球航行};
\node[ppA, anchor=north east] (l5d4) at (638,5957) {4、影响：世界开始连成一个整体;促进资本主\\义的产生和发展;开辟了欧洲人殖民扩张活动\\的道路;造成了亚非拉国家和地区的殖民灾祸\\。};
\node[ppA, anchor=north east] (l5d5) at (638,6184) {5、比较哥伦布等人的航海与中国郑和的远航\\，有什么不同?(提示学生从规模、目的、性质\\、影响等方面分析比较)};
\node[lbA, anchor=east] (l5d5a) at (335,6083) {航海家规模目的性质影响};
\node[lbA, anchor=east] (l5d5b) at (335,6141) {郑和船多};
\node[ppA, anchor=north east] (l5d5c) at (335,6184) {人多宣扬国威加强联系友好交往义举促进国家\\友好和经济文化交流};
\node[lbA, anchor=east] (l5d5d) at (335,6275) {哥伦布等船少};
\node[ppA, anchor=north east] (l5d5e) at (335,6319) {人少开拓市场掠夺财富殖民扩张活动世界开始\\连成一个整体;促进资本主义的产生和发展造\\成殖民灾祸};

% ---------- spines ----------
\coordinate (rsp) at (1443,3412);
\coordinate (lsp) at (1131,3412);
\draw[bl, line width=1.5pt] (c.east) -- (rsp);
\draw[bl, line width=1.5pt] (c.west) -- (lsp);
\draw[spA] (rsp |- intro.west) -- (rsp |- rel.west);
\draw[spA] (lsp |- l1.east) -- (lsp |- l5.east);
\foreach \q in {intro,r2,r4,rel} {\draw[cnA] (rsp |- \q.west) -- (\q.west);}
\foreach \q in {l1,l3,l5} {\draw[cnA] (lsp |- \q.east) -- (\q.east);}

% ---------- right fans ----------
\fanR{r2}{r2a}{r2e}{r2a,r2b,r2c,r2d,r2e}
\fanR{r2b}{r2b1}{r2b8}{r2b1,r2b2,r2b3,r2b4,r2b5,r2b6,r2b7,r2b8}
\fanR{r2c}{r2c1}{r2c4}{r2c1,r2c2,r2c3,r2c4}
\fanR{r2d}{r2d1}{r2d1}{r2d1}
\fanR{r2e}{r2e1}{r2e4}{r2e1,r2e2,r2e3,r2e4}
\fanR{r4}{r4a}{r4e}{r4a,r4b,r4c,r4d,r4e}
\fanR{r4a}{r4a1}{r4a3}{r4a1,r4a2,r4a3}
\fanR{r4a2}{r4a2a}{r4a2c}{r4a2a,r4a2b,r4a2c}
\fanR{r4b}{r4b1}{r4b3}{r4b1,r4b2,r4b3}
\fanR{r4b1}{r4b1a}{r4b1b}{r4b1a,r4b1b}
\fanR{r4b2}{r4b2a}{r4b2c}{r4b2a,r4b2b,r4b2c}
\fanR{r4b3}{r4b3a}{r4b3b}{r4b3a,r4b3b}
\fanR{r4c}{r4c1}{r4c2}{r4c1,r4c2}
\fanR{r4d}{r4d1}{r4d1}{r4d1}
\fanR{r4e}{r4e1}{r4e9}{r4e1,r4e2,r4e3,r4e4,r4e5,r4e6,r4e7,r4e8,r4e9}
\fanR{r4e8}{r4e8a}{r4e8a}{r4e8a}
\fanR{r4e9}{r4e9a}{r4e9k}{r4e9a,r4e9b,r4e9c,r4e9d,r4e9e,r4e9f,r4e9g,r4e9h,r4e9i,r4e9j,r4e9k}
\fanR{rel}{rel1}{rel10}{rel1,rel2,rel3,rel4,rel5,rel6,rel7,rel8,rel9,rel10}

% ---------- left fans ----------
\fanL{l1}{l1a}{l1f}{l1a,l1b,l1c,l1d,l1e,l1f}
\fanL{l1b}{l1b1}{l1b1}{l1b1}
\fanL{l1c}{l1c1}{l1c4}{l1c1,l1c2,l1c3,l1c4}
\fanL{l1c1}{l1c1a}{l1c1a}{l1c1a}
\fanL{l1d}{l1d1}{l1d5}{l1d1,l1d2,l1d3,l1d4,l1d5}
\fanL{l1d2}{l1d2a}{l1d2a}{l1d2a}
\fanL{l1d3}{l1d3a}{l1d3a}{l1d3a}
\fanL{l1d5}{l1d5a}{l1d5a}{l1d5a}
\fanL{l1e}{l1e1}{l1e1}{l1e1}
\fanL{l1f}{l1f1}{l1f4}{l1f1,l1f2,l1f3,l1f4}
\fanL{l1f4}{l1f4a}{l1f4a}{l1f4a}
\fanL{l3}{l3a}{l3b}{l3a,l3b}
\fanL{l3a}{l3a1}{l3a3}{l3a1,l3a2,l3a3}
\fanL{l3a1}{l3a1a}{l3a1a}{l3a1a}
\fanL{l3a2}{l3a2a}{l3a2a}{l3a2a}
\fanL{l3a3}{l3a3a}{l3a3a}{l3a3a}
\fanL{l3b}{l3b1}{l3b3}{l3b1,l3b2,l3b3}
\fanL{l3b1}{l3b1a}{l3b1a}{l3b1a}
\fanL{l3b2}{l3b2a}{l3b2a}{l3b2a}
\fanL{l3b3}{l3b3a}{l3b3a}{l3b3a}
\fanL{l5}{l5a}{l5d}{l5a,l5b,l5c,l5d}
\fanL{l5a}{l5a1}{l5a4}{l5a1,l5a2,l5a3,l5a4}
\fanL{l5b}{l5b1}{l5b4}{l5b1,l5b2,l5b3,l5b4}
\fanL{l5b3}{l5b3a}{l5b3b}{l5b3a,l5b3b}
\fanL{l5c}{l5c1}{l5c6}{l5c1,l5c2,l5c3,l5c4,l5c5,l5c6}
\fanL{l5c5}{l5c5a}{l5c5d}{l5c5a,l5c5b,l5c5c,l5c5d}
\fanL{l5d}{l5d1}{l5d5}{l5d1,l5d2,l5d3,l5d4,l5d5}
\fanL{l5d3}{l5d3a}{l5d3b}{l5d3a,l5d3b}
\fanL{l5d5}{l5d5a}{l5d5e}{l5d5a,l5d5b,l5d5c,l5d5d,l5d5e}

% ---------- watermarks ----------
\foreach \wy [count=\k] in {720,1720,2740,3760,4760,5760,6770} {
  \node[wmA] (wl\k) at (300,\wy) {\fontsize{56pt}{60pt}\selectfont\bfseries 树图\hspace{8pt}{\wmlat\fontsize{70pt}{70pt}\selectfont shutu.cn}};
  \node[wmA] (wr\k) at (1620,\wy) {\fontsize{56pt}{60pt}\selectfont\bfseries 树图\hspace{8pt}{\wmlat\fontsize{70pt}{70pt}\selectfont shutu.cn}};
}
\end{tikzpicture}
\end{document}
